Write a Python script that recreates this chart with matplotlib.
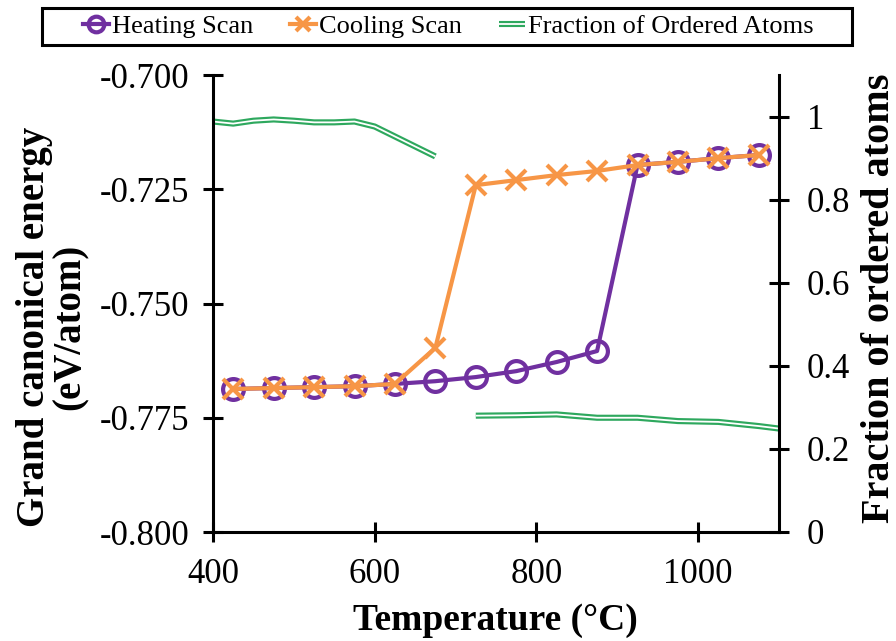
"""heating / cooling scans of grand canonical energy with the ordered-atom fraction"""

import matplotlib
matplotlib.use("Agg")
import matplotlib.pyplot as plt
import matplotlib.patheffects as pe
from matplotlib.patches import Rectangle
from matplotlib.ticker import FormatStrFormatter, FuncFormatter


# scan temperatures (deg C)
temps = [425, 475, 525, 575, 625, 675, 725, 775, 825, 875, 925, 975, 1025, 1075]

# grand canonical energy (eV/atom)
heating = [-0.7687, -0.7685, -0.7683, -0.7681, -0.7676, -0.7670, -0.7661,
           -0.7648, -0.7628, -0.7604, -0.7197, -0.7190, -0.7182, -0.7175]
cooling = [-0.7687, -0.7685, -0.7683, -0.7681, -0.7676, -0.7597, -0.7241,
           -0.7230, -0.7219, -0.7210, -0.7197, -0.7190, -0.7182, -0.7175]

# fraction of ordered atoms, ordered branch and disordered branch
frac_t_low = [400, 425, 450, 475, 500, 525, 550, 575, 600, 625, 650, 675]
frac_low = [0.988, 0.983, 0.990, 0.993, 0.990, 0.986, 0.986, 0.988,
            0.976, 0.952, 0.928, 0.904]
frac_t_high = [725, 775, 825, 875, 925, 975, 1025, 1075, 1100]
frac_high = [0.280, 0.281, 0.283, 0.275, 0.275, 0.267, 0.265, 0.255, 0.249]

purple = "#7030A0"
orange = "#F79646"
green = "#2EA85E"

plt.rcParams["font.family"] = "Liberation Serif"
plt.rcParams["axes.unicode_minus"] = False

W, H = 896, 641
fig = plt.figure(figsize=(W / 100, H / 100), dpi=100)
ax = fig.add_axes([213 / W, 1 - 532 / H, (779 - 213) / W, (532 - 75) / H])
ax2 = ax.twinx()

# fraction lines drawn as a double line (green stroke with white core)
double = [pe.Stroke(linewidth=4.4, foreground=green), pe.Normal()]
for tt, ff in [(frac_t_low, frac_low), (frac_t_high, frac_high)]:
    f_line, = ax2.plot(tt, ff, color="white", lw=1.3, solid_capstyle="butt",
                       path_effects=double, zorder=2)

ax.set_zorder(ax2.get_zorder() + 1)
ax.patch.set_visible(False)

h_line, = ax.plot(temps, heating, color=purple, lw=3, marker="o", ms=15,
                  mfc="none", mec=purple, mew=3, zorder=3)
c_line, = ax.plot(temps, cooling, color=orange, lw=3, marker="x", ms=14,
                  mec=orange, mew=3, zorder=4)

ax.set_xlim(400, 1100)
ax.set_ylim(-0.800, -0.700)
ax.set_xticks([400, 600, 800, 1000])
ax.set_yticks([-0.800, -0.775, -0.750, -0.725, -0.700])
ax.yaxis.set_major_formatter(FormatStrFormatter("%.3f"))
ax2.set_ylim(0, 1.1)
ax2.set_yticks([0, 0.2, 0.4, 0.6, 0.8, 1.0])
ax2.yaxis.set_major_formatter(FuncFormatter(lambda v, p: f"{v:g}"))

for a in (ax, ax2):
    for side in ["left", "right", "bottom"]:
        a.spines[side].set_linewidth(2.2)
    a.spines["top"].set_visible(False)
ax.spines["right"].set_visible(False)
ax2.spines["left"].set_visible(False)
ax2.spines["bottom"].set_visible(False)

ax.tick_params(axis="both", direction="inout", length=14, width=2.2,
               labelsize=25)
ax.tick_params(axis="y", pad=10)
ax.tick_params(axis="x", pad=12)
ax2.tick_params(axis="y", direction="inout", length=14, width=2.2,
                labelsize=25, pad=13)

# axis titles
fig.text(495 / W, 1 - 620 / H, "Temperature (°C)", fontsize=27,
         fontweight="bold", ha="center", va="center")
fig.text(52 / W, 1 - 327 / H, "Grand canonical energy\n(eV/atom)",
         fontsize=28, fontweight="bold", ha="center", va="center",
         rotation=90, linespacing=0.95)
fig.text(879 / W, 1 - 298 / H, "Fraction of ordered atoms", fontsize=29,
         fontweight="bold", ha="center", va="center", rotation=90)

# legend across the top with a black frame
fig.legend([h_line, c_line, f_line],
           ["Heating Scan", "Cooling Scan", "Fraction of Ordered Atoms"],
           loc="center", bbox_to_anchor=(0.5, 1 - 26.5 / H), ncol=3,
           frameon=False, fontsize=19, handlelength=1.0, handletextpad=0.1,
           columnspacing=1.4, markerscale=0.75)
fig.add_artist(Rectangle((42 / W, 1 - 45 / H), (852 - 42) / W, 37 / H,
                         transform=fig.transFigure, fill=False,
                         edgecolor="black", lw=2.2))

fig.savefig("out.png", dpi=100)
